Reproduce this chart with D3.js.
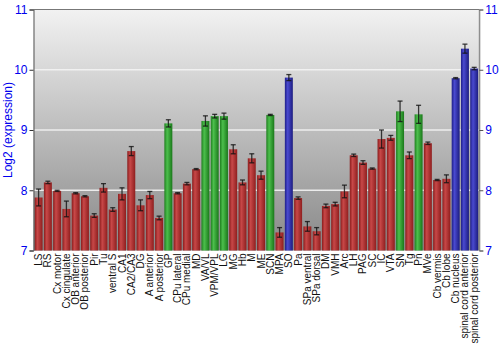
<!DOCTYPE html>
<html><head><meta charset="utf-8">
<script src="https://cdn.jsdelivr.net/npm/d3@7"></script>
<style>body{margin:0;background:#fff}svg{display:block}</style>
</head><body>
<svg id="c" width="500" height="350"></svg>
<script>
const categories = ["LS","RS","Cx motor","Cx cingulate","OB anterior","OB posterior","Pir","Tu","ventral S","CA1","CA2/CA3","DG","A anterior","A posterior","GP","CPu lateral","CPu medial","MD","VA/VL","VPM/VPL","LG","MG","Hb","M","ME","SCN","MPA","SO","Pa","SPa ventral","SPa dorsal","DM","VMH","Arc","LH","PAG","SC","IC","VTA","SN","Tg","Pn","MVe","Cb vermis","Cb lobe","Cb nucleus","spinal cord anterior","spinal cord posterior"];
const values = [7.88,8.13,7.99,7.69,7.95,7.90,7.58,8.04,7.68,7.94,8.65,7.75,7.92,7.54,9.11,7.95,8.11,8.35,9.15,9.23,9.23,8.68,8.13,8.53,8.25,9.25,7.30,9.87,7.87,7.40,7.32,7.74,7.77,7.98,8.58,8.46,8.36,8.85,8.87,9.31,8.58,9.26,8.78,8.17,8.19,9.86,10.35,10.02];
const errors = [0.14,0.02,0.01,0.13,0.01,0.01,0.03,0.07,0.03,0.10,0.075,0.09,0.06,0.03,0.06,0.01,0.02,0.01,0.085,0.03,0.05,0.075,0.04,0.075,0.067,0.01,0.08,0.05,0.02,0.08,0.06,0.03,0.03,0.105,0.02,0.03,0.01,0.15,0.04,0.17,0.055,0.15,0.02,0.01,0.065,0.01,0.075,0.02];
const groups = ["r","r","r","r","r","r","r","r","r","r","r","r","r","r","g","r","r","r","g","g","g","r","r","r","r","g","r","b","r","r","r","r","r","r","r","r","r","r","r","g","r","g","r","r","r","b","b","b"];
const yTicks = [7,8,9,10,11];

const svg = d3.select("#c");
const L = 33.5, R = 479.3, T = 9.5, B = 250.5;
const x = d3.scaleBand().domain(categories).range([L, R]).paddingInner(0.14).paddingOuter(0.12);
const y = d3.scaleLinear().domain([7, 11]).range([B, T]);

const defs = svg.append("defs");
const bg = defs.append("linearGradient").attr("id","bg").attr("x1",0).attr("y1",0).attr("x2",0).attr("y2",1);
bg.append("stop").attr("offset","0%").attr("stop-color","#f2f2f2");
bg.append("stop").attr("offset","100%").attr("stop-color","#888888");
const pal = {r:["#8a1c1c","#c84848","#8e1e1e"], g:["#1f7f1f","#4cbf4c","#1a781a"], b:["#1e1e88","#4a4ad0","#1c1c80"]};
Object.entries(pal).forEach(([k,c])=>{
  const g = defs.append("linearGradient").attr("id","bar"+k).attr("x1",0).attr("y1",0).attr("x2",1).attr("y2",0);
  g.append("stop").attr("offset","0%").attr("stop-color",c[0]);
  g.append("stop").attr("offset","35%").attr("stop-color",c[1]);
  g.append("stop").attr("offset","100%").attr("stop-color",c[2]);
});

svg.append("rect").attr("x",L).attr("y",T).attr("width",R-L).attr("height",B-T).attr("fill","url(#bg)");

// grid
svg.append("g").selectAll("line").data(yTicks.filter(t=>t>7 && t<11)).join("line")
  .attr("x1",L).attr("x2",R).attr("y1",d=>y(d)).attr("y2",d=>y(d))
  .attr("stroke","#f4f4f4").attr("stroke-width",1.5).attr("opacity",0.9);

// bars
svg.append("g").selectAll("rect").data(categories).join("rect")
  .attr("x",d=>x(d)).attr("width",x.bandwidth())
  .attr("y",(d,i)=>y(values[i])).attr("height",(d,i)=>B-y(values[i]))
  .attr("fill",(d,i)=>"url(#bar"+groups[i]+")");

// error bars
const eb = svg.append("g").attr("stroke","#111").attr("stroke-opacity",0.8).attr("stroke-width",1.3);
categories.forEach((c,i)=>{
  const cx = x(c)+x.bandwidth()/2;
  const y1 = y(values[i]+errors[i]), y2 = y(values[i]-errors[i]);
  eb.append("line").attr("x1",cx).attr("x2",cx).attr("y1",y1).attr("y2",y2);
  eb.append("line").attr("x1",cx-2.5).attr("x2",cx+2.5).attr("y1",y1).attr("y2",y1);
  eb.append("line").attr("x1",cx-2.5).attr("x2",cx+2.5).attr("y1",y2).attr("y2",y2);
});

// frame
svg.append("line").attr("x1",L).attr("x2",R).attr("y1",T).attr("y2",T).attr("stroke","#777");
svg.append("line").attr("x1",R).attr("x2",R).attr("y1",T).attr("y2",B).attr("stroke","#888");

// axes
const la = svg.append("g").attr("transform",`translate(${L},0)`)
  .call(d3.axisLeft(y).tickValues(yTicks).tickSize(4).tickPadding(2).tickFormat(d3.format("d")));
la.select(".domain").attr("stroke","#555");
la.selectAll(".tick line").attr("stroke","#333");
la.selectAll("text").attr("fill","#0000ee").style("font-family","Liberation Sans, Arial, sans-serif").style("font-size","12px");

const ra = svg.append("g").attr("transform",`translate(${R},0)`)
  .call(d3.axisRight(y).tickValues(yTicks).tickSize(4).tickPadding(2).tickFormat(d3.format("d")));
ra.select(".domain").attr("stroke","#888");
ra.selectAll(".tick line").attr("stroke","#555");
ra.selectAll("text").attr("fill","#0000ee").style("font-family","Liberation Sans, Arial, sans-serif").style("font-size","12px");

// x labels
svg.append("g").selectAll("text").data(categories).join("text")
  .attr("transform",d=>`translate(${x(d)+x.bandwidth()/2+3.5},${B+3}) rotate(-90)`)
  .attr("text-anchor","end")
  .style("font-family","Liberation Sans, Arial, sans-serif").style("font-size","10px").attr("fill","#111")
  .text(d=>d);

svg.append("text").attr("transform",`translate(12,${(T+B)/2}) rotate(-90)`)
  .attr("text-anchor","middle").attr("fill","#0000ee")
  .style("font-family","Liberation Sans, Arial, sans-serif").style("font-size","12px")
  .text("Log2 (expression)");
</script>
</body></html>
